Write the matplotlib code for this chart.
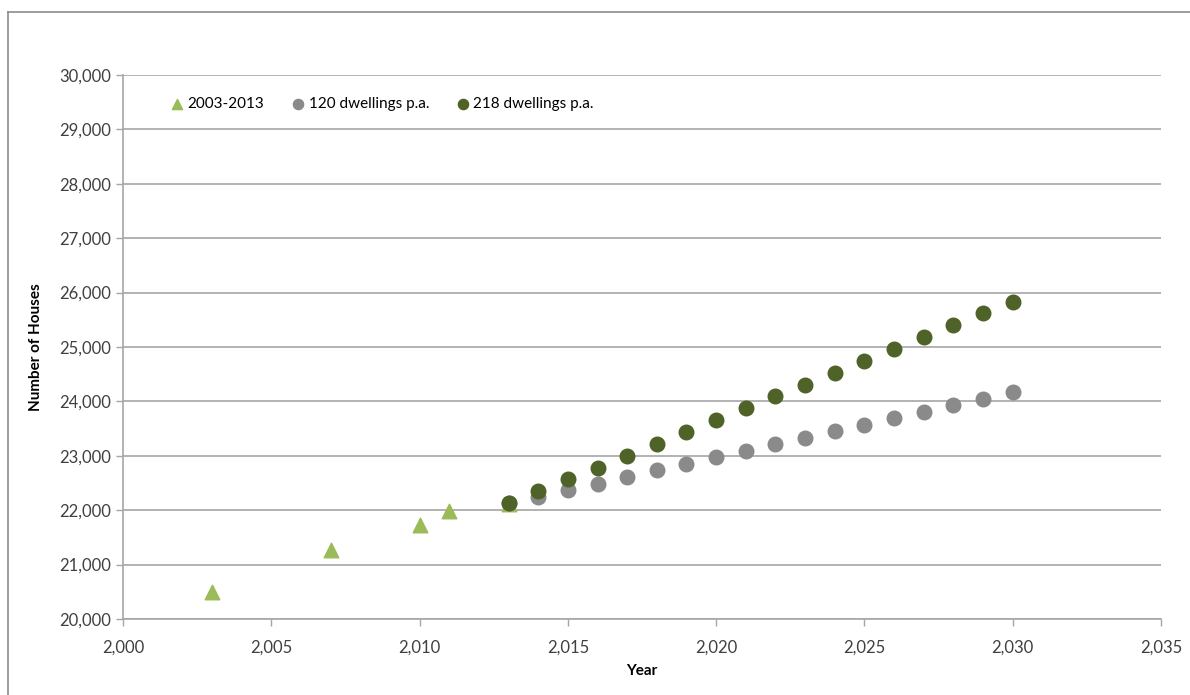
import matplotlib
matplotlib.use("Agg")
import matplotlib.pyplot as plt
from matplotlib.lines import Line2D
from matplotlib.ticker import FuncFormatter, MultipleLocator

plt.rcParams['font.family'] = ['Lato', 'DejaVu Sans']

# observed 2003-2013
hist_years = [2003, 2007, 2010, 2011, 2013]
hist_houses = [20500, 21265, 21725, 21980, 22110]

# projections
proj_years = [2013, 2014, 2015, 2016, 2017, 2018, 2019, 2020, 2021,
              2022, 2023, 2024, 2025, 2026, 2027, 2028, 2029, 2030]
low_houses = [22130, 22250, 22370, 22490, 22610, 22730, 22850, 22970, 23090,
              23210, 23330, 23450, 23570, 23690, 23810, 23930, 24050, 24170]
high_houses = [22130, 22348, 22566, 22784, 23002, 23220, 23438, 23656, 23874,
               24092, 24310, 24528, 24746, 24964, 25182, 25400, 25618, 25836]

fig = plt.figure(figsize=(11.9, 6.95), dpi=100)
ax = fig.add_axes([123 / 1190, 1 - 619 / 695, (1161 - 123) / 1190, (619 - 75) / 695])

# outer chart border: only left and top edges are visible
bx, by = 8 / 1190, 1 - 12 / 695
fig.lines.append(Line2D([bx, bx], [0, by], transform=fig.transFigure,
                        color='#8c8c8c', linewidth=1.2))
fig.lines.append(Line2D([bx, 1], [by, by], transform=fig.transFigure,
                        color='#8c8c8c', linewidth=1.2))

ax.scatter(hist_years, hist_houses, marker='^', s=110, color='#9bbb59',
           label='2003-2013', zorder=3)
ax.scatter(proj_years, low_houses, marker='o', s=110, color='#8a8a8a',
           label='120 dwellings p.a.', zorder=3)
ax.scatter(proj_years, high_houses, marker='o', s=110, color='#4f6228',
           label='218 dwellings p.a.', zorder=4)

ax.set_xlim(2000, 2035)
ax.set_ylim(20000, 30000)
ax.xaxis.set_major_locator(MultipleLocator(5))
ax.yaxis.set_major_locator(MultipleLocator(1000))
fmt = FuncFormatter(lambda v, p: f"{int(v):,}")
ax.xaxis.set_major_formatter(fmt)
ax.yaxis.set_major_formatter(fmt)

ax.grid(axis='y', color='#a6a6a6', linewidth=1.2)
ax.set_axisbelow(True)
for s in ['top', 'right']:
    ax.spines[s].set_visible(False)
for s in ['left', 'bottom']:
    ax.spines[s].set_color('#a6a6a6')
    ax.spines[s].set_linewidth(1.2)
ax.tick_params(axis='both', colors='#a6a6a6', labelcolor='#404040',
               labelsize=12, length=5, width=1)
ax.tick_params(axis='x', pad=10)

ax.set_xlabel('Year', fontsize=11, fontweight='bold', color='black', labelpad=6)
ax.set_ylabel('Number of Houses', fontsize=11, fontweight='bold', color='black',
              labelpad=12)

ax.legend(loc='upper left', bbox_to_anchor=(0.024, 0.985), ncol=3, frameon=False,
          fontsize=11, handletextpad=-0.3, columnspacing=1.2, markerscale=0.7)

fig.savefig('out.png', dpi=100)
